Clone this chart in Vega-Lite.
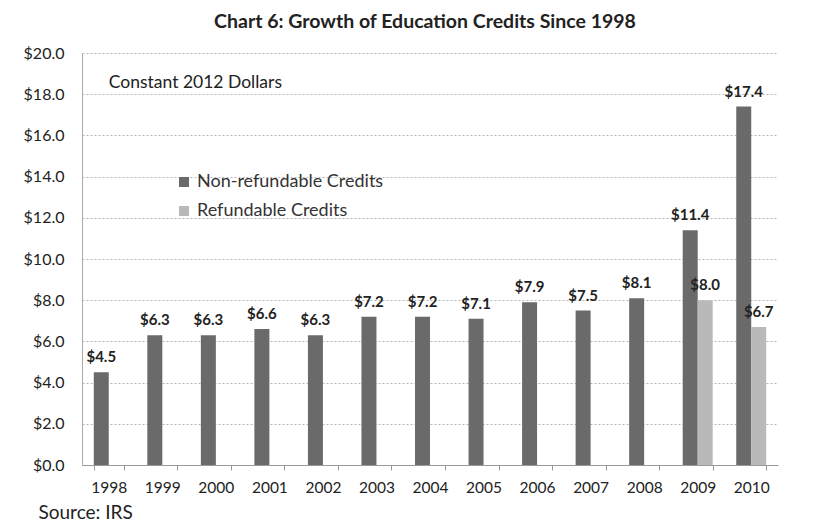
{
  "$schema": "https://vega.github.io/schema/vega-lite/v6.json",
  "autosize": {"type": "none"},
  "padding": {"left": 82, "top": 53, "right": 58, "bottom": 58},
  "width": 696,
  "height": 412,
  "background": "white",
  "config": {
    "font": "Lato",
    "view": {"stroke": null}
  },
  "title": {
    "text": "Chart 6: Growth of Education Credits Since 1998",
    "fontSize": 19.5,
    "fontWeight": "bold",
    "color": "#222222",
    "anchor": "middle",
    "offset": 13,
    "dx": -5
  },
  "data": {
    "values": [
      {"year": "1998", "series": "Non-refundable Credits", "value": 4.5},
      {"year": "1999", "series": "Non-refundable Credits", "value": 6.3},
      {"year": "2000", "series": "Non-refundable Credits", "value": 6.3},
      {"year": "2001", "series": "Non-refundable Credits", "value": 6.6},
      {"year": "2002", "series": "Non-refundable Credits", "value": 6.3},
      {"year": "2003", "series": "Non-refundable Credits", "value": 7.2},
      {"year": "2004", "series": "Non-refundable Credits", "value": 7.2},
      {"year": "2005", "series": "Non-refundable Credits", "value": 7.1},
      {"year": "2006", "series": "Non-refundable Credits", "value": 7.9},
      {"year": "2007", "series": "Non-refundable Credits", "value": 7.5},
      {"year": "2008", "series": "Non-refundable Credits", "value": 8.1},
      {"year": "2009", "series": "Non-refundable Credits", "value": 11.4},
      {"year": "2010", "series": "Non-refundable Credits", "value": 17.4},
      {"year": "2009", "series": "Refundable Credits", "value": 8.0},
      {"year": "2010", "series": "Refundable Credits", "value": 6.7}
    ]
  },
  "encoding": {
    "x": {
      "field": "year",
      "type": "nominal",
      "scale": {"paddingInner": 0.44, "paddingOuter": 0.22},
      "axis": {
        "title": "Source: IRS",
        "titleAnchor": "start",
        "titleAlign": "left",
        "titleX": -44,
        "titleY": 47,
        "titleBaseline": "middle",
        "titleFontSize": 19,
        "titleFontWeight": "normal",
        "titleColor": "#222222",
        "labelAngle": 0,
        "labelFontSize": 15.5,
        "labelColor": "#222222",
        "labelPadding": 10,
        "tickBand": "extent",
        "tickSize": 5,
        "tickColor": "#999999",
        "domainColor": "#999999",
        "grid": false
      }
    },
    "xOffset": {
      "field": "series",
      "type": "nominal",
      "scale": {"domain": ["Non-refundable Credits", "Refundable Credits"], "paddingInner": 0, "paddingOuter": 0}
    },
    "y": {
      "field": "value",
      "type": "quantitative",
      "scale": {"domain": [0, 20], "nice": false},
      "axis": {
        "title": null,
        "values": [0, 2, 4, 6, 8, 10, 12, 14, 16, 18, 20],
        "format": "$.1f",
        "labelFontSize": 16,
        "labelColor": "#222222",
        "labelPadding": 18,
        "ticks": false,
        "domainColor": "#aaaaaa",
        "gridColor": "#b5b5b5",
        "gridDash": [2, 2],
        "gridWidth": 1
      }
    }
  },
  "layer": [
    {
      "mark": {"type": "bar"},
      "encoding": {
        "color": {
          "field": "series",
          "type": "nominal",
          "scale": {"domain": ["Non-refundable Credits", "Refundable Credits"], "range": ["#6a6a6a", "#b9b9b9"]},
          "legend": {
            "title": null,
            "orient": "none",
            "legendX": 93,
            "legendY": 120,
            "symbolType": "square",
            "symbolSize": 100,
            "symbolStrokeWidth": 0,
            "labelFontSize": 18,
            "labelLimit": 400,
            "labelColor": "#333333",
            "labelOffset": 4,
            "rowPadding": 11
          }
        }
      }
    },
    {
      "mark": {"type": "text", "baseline": "bottom", "dy": -7, "fontSize": 15, "fontWeight": "bold", "color": "#222222"},
      "encoding": {
        "text": {"field": "value", "type": "quantitative", "format": "$.1f"}
      }
    },
    {
      "data": {"values": [{"note": "Constant 2012 Dollars", "year": "1998", "level": 18.55}]},
      "mark": {"type": "text", "align": "left", "baseline": "middle", "fontSize": 17.5, "color": "#222222"},
      "encoding": {
        "x": {"field": "year", "type": "nominal"},
        "y": {"field": "level", "type": "quantitative"},
        "xOffset": null,
        "text": {"field": "note", "type": "nominal"}
      }
    }
  ]
}
